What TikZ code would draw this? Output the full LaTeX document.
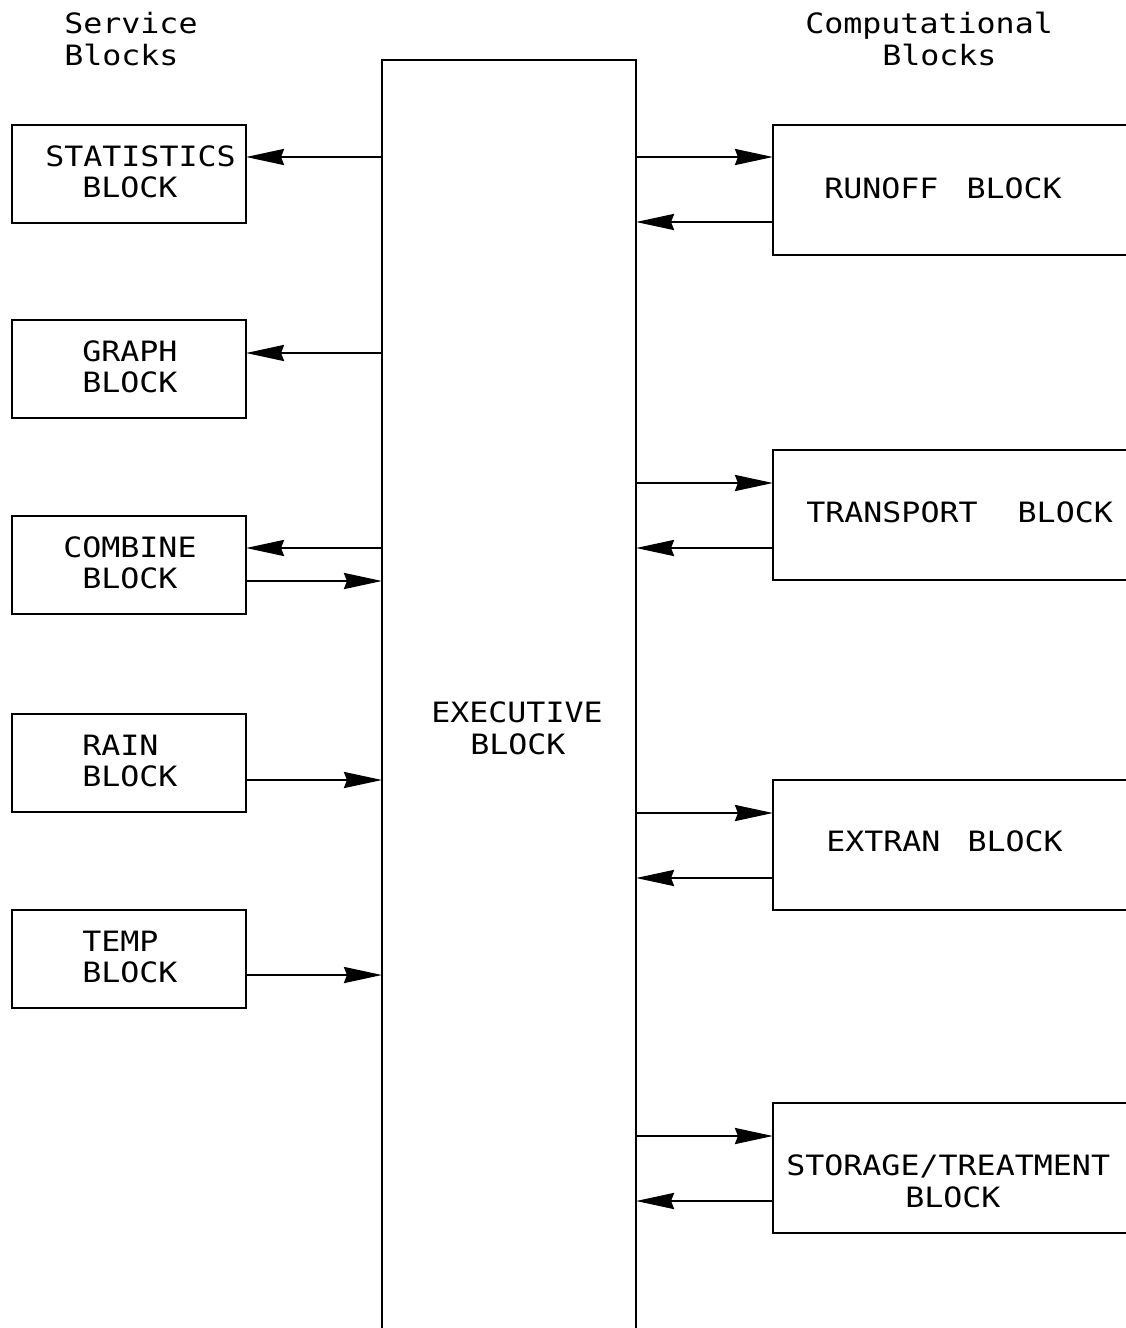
\documentclass[tikz,border=0pt]{standalone}
\usepackage{fontspec}
\newfontfamily\plotfont[FakeStretch=1.13]{DejaVu Sans Mono}
\usetikzlibrary{arrows.meta}
\begin{document}
\begin{tikzpicture}[x=1pt,y=-1pt,line width=2.5pt,
  box/.style={draw,line width=2.5pt,outer sep=0pt,inner sep=0pt,anchor=north west},
  lbox/.style={box,minimum width=234pt,minimum height=98pt},
  rbox/.style={box,minimum width=380pt,minimum height=130pt},
  txt/.style={font=\plotfont\fontsize{28pt}{32pt}\selectfont,inner sep=0pt,anchor=base west},
  arr/.style={-{Stealth[length=38pt,width=16pt,inset=3pt]},line width=2.5pt}]
\useasboundingbox (0,0) rectangle (1126,1328);
% headers
\node[txt] (h1) at (63,33) {Service};
\node[txt] (h2) at (63,65) {Blocks};
\node[txt] (h3) at (804,33) {Computational};
\node[txt] (h4) at (881,65) {Blocks};
% executive
\node[box,minimum width=254pt,minimum height=1300pt] (exec) at (382,60) {};
\node[txt] (ex1) at (430,722) {EXECUTIVE};
\node[txt] (ex2) at (469,754) {BLOCK};
% service blocks
\node[lbox] (stat) at (12,125) {};
\node[txt] (stat1) at (44,166) {STATISTICS};
\node[txt] (stat2) at (81,197) {BLOCK};
\node[lbox] (graph) at (12,320) {};
\node[txt] (graph1) at (81,361) {GRAPH};
\node[txt] (graph2) at (81,392) {BLOCK};
\node[lbox] (comb) at (12,516) {};
\node[txt] (comb1) at (62,557) {COMBINE};
\node[txt] (comb2) at (81,588) {BLOCK};
\node[lbox] (rain) at (12,714) {};
\node[txt] (rain1) at (81,755) {RAIN};
\node[txt] (rain2) at (81,786) {BLOCK};
\node[lbox] (temp) at (12,910) {};
\node[txt] (temp1) at (81,951) {TEMP};
\node[txt] (temp2) at (81,982) {BLOCK};
% computational blocks
\node[rbox] (run) at (773,125) {};
\node[txt] (run1) at (823,198) {RUNOFF\hspace*{28pt}BLOCK};
\node[rbox] (trans) at (773,450) {};
\node[txt] (trans1) at (805,522) {TRANSPORT\hspace*{40pt}BLOCK};
\node[rbox] (extr) at (773,780) {};
\node[txt] (extr1) at (825,851) {EXTRAN\hspace*{27pt}BLOCK};
\node[rbox] (stor) at (773,1103) {};
\node[txt] (stor1) at (785,1175) {STORAGE/TREATMENT};
\node[txt] (stor2) at (904,1207) {BLOCK};
% connector levels
\coordinate (a1) at ([yshift=-32pt]stat.north east);
\coordinate (a2) at ([yshift=-33pt]graph.north east);
\coordinate (a3) at ([yshift=-32pt]comb.north east);
\coordinate (a4) at ([yshift=-65pt]comb.north east);
\coordinate (a5) at ([yshift=-66pt]rain.north east);
\coordinate (a6) at ([yshift=-65pt]temp.north east);
\coordinate (b1) at ([yshift=-32pt]run.north west);
\coordinate (b2) at ([yshift=-97pt]run.north west);
\coordinate (b3) at ([yshift=-33pt]trans.north west);
\coordinate (b4) at ([yshift=-98pt]trans.north west);
\coordinate (b5) at ([yshift=-33pt]extr.north west);
\coordinate (b6) at ([yshift=-98pt]extr.north west);
\coordinate (b7) at ([yshift=-33pt]stor.north west);
\coordinate (b8) at ([yshift=-98pt]stor.north west);
% connectors
\draw[arr] (exec.west |- a1) -- (a1);
\draw[arr] (exec.west |- a2) -- (a2);
\draw[arr] (exec.west |- a3) -- (a3);
\draw[arr] (a4) -- (exec.west |- a4);
\draw[arr] (a5) -- (exec.west |- a5);
\draw[arr] (a6) -- (exec.west |- a6);
\draw[arr] (exec.east |- b1) -- (b1);
\draw[arr] (b2) -- (exec.east |- b2);
\draw[arr] (exec.east |- b3) -- (b3);
\draw[arr] (b4) -- (exec.east |- b4);
\draw[arr] (exec.east |- b5) -- (b5);
\draw[arr] (b6) -- (exec.east |- b6);
\draw[arr] (exec.east |- b7) -- (b7);
\draw[arr] (b8) -- (exec.east |- b8);
\end{tikzpicture}
\end{document}
